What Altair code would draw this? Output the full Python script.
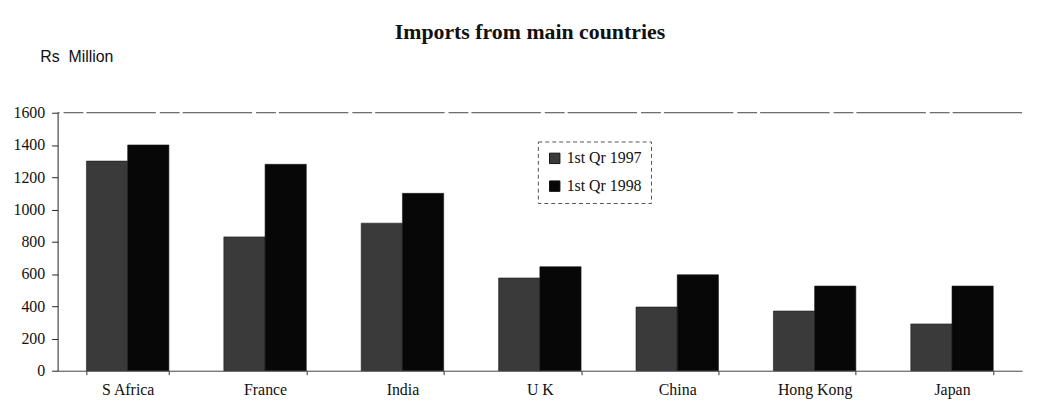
import altair as alt
import pandas as pd

countries = ["S Africa", "France", "India", "U K", "China", "Hong Kong", "Japan"]
series = ["1st Qr 1997", "1st Qr 1998"]
q1_1997 = [1300, 830, 915, 575, 395, 370, 290]
q1_1998 = [1400, 1280, 1100, 645, 595, 525, 525]
y_ticks = [0, 200, 400, 600, 800, 1000, 1200, 1400, 1600]

rows = []
for c, a, b in zip(countries, q1_1997, q1_1998):
    rows.append({"country": c, "series": series[0], "value": a})
    rows.append({"country": c, "series": series[1], "value": b})
df = pd.DataFrame(rows)

serif = "Liberation Serif"
sans = "Liberation Sans"

y_axis = alt.Axis(
    values=y_ticks, grid=False, format="d", labelOverlap=False,
    title="Rs\u00a0\u00a0Million", titleAngle=0, titleAlign="left",
    titleBaseline="alphabetic", titleX=-18, titleY=-52,
    titleFont=sans, titleFontSize=16, titleFontWeight="normal",
    titleColor="#111",
    labelFont=serif, labelFontSize=16, labelColor="#111",
    tickSize=6, tickColor="#222", domainColor="#222", labelPadding=7,
)
y_scale = alt.Scale(domain=[0, 1600])

bars = alt.Chart(df).mark_bar(stroke="#1a1a1a", strokeWidth=0.6).encode(
    x=alt.X(
        "country:N",
        sort=countries,
        scale=alt.Scale(paddingInner=0.4, paddingOuter=0.21),
        axis=alt.Axis(
            title=None, labelAngle=0, tickBand="extent", tickSize=4,
            tickColor="#333", domainColor="#444", domainWidth=1,
            labelFont=serif, labelFontSize=16, labelColor="#111",
            labelPadding=7,
        ),
    ),
    xOffset=alt.XOffset("series:N", sort=series),
    y=alt.Y("value:Q", scale=y_scale, axis=y_axis),
    color=alt.Color(
        "series:N",
        sort=series,
        scale=alt.Scale(domain=series, range=["#3a3a3a", "#070707"]),
        legend=alt.Legend(
            title=None, orient="none", legendX=484, legendY=29,
            symbolType="square", symbolSize=110, symbolStrokeColor="#111",
            symbolStrokeWidth=1, labelOffset=4,
            labelFont=serif, labelFontSize=16, labelColor="#111",
            rowPadding=12, padding=9, strokeColor="#555",
        ),
    ),
)

top_rule = alt.Chart(pd.DataFrame({"value": [1600]})).mark_rule(
    color="#444", strokeWidth=1, strokeDash=[70, 3, 20, 4]
).encode(y=alt.Y("value:Q", scale=y_scale, axis=y_axis))

chart = alt.layer(bars, top_rule).properties(
    width=972,
    height=260,
    autosize="none",
    padding={"left": 50, "top": 104, "right": 11, "bottom": 31},
    title=alt.Title(
        "Imports from main countries", font=serif, fontSize=22,
        fontWeight="bold", anchor="middle", dx=-10, offset=4, color="#111",
    ),
).configure_view(stroke=None).configure_legend(strokeDash=[4, 3])

chart.save("out.html", embed_options={"renderer": "svg", "actions": False})
